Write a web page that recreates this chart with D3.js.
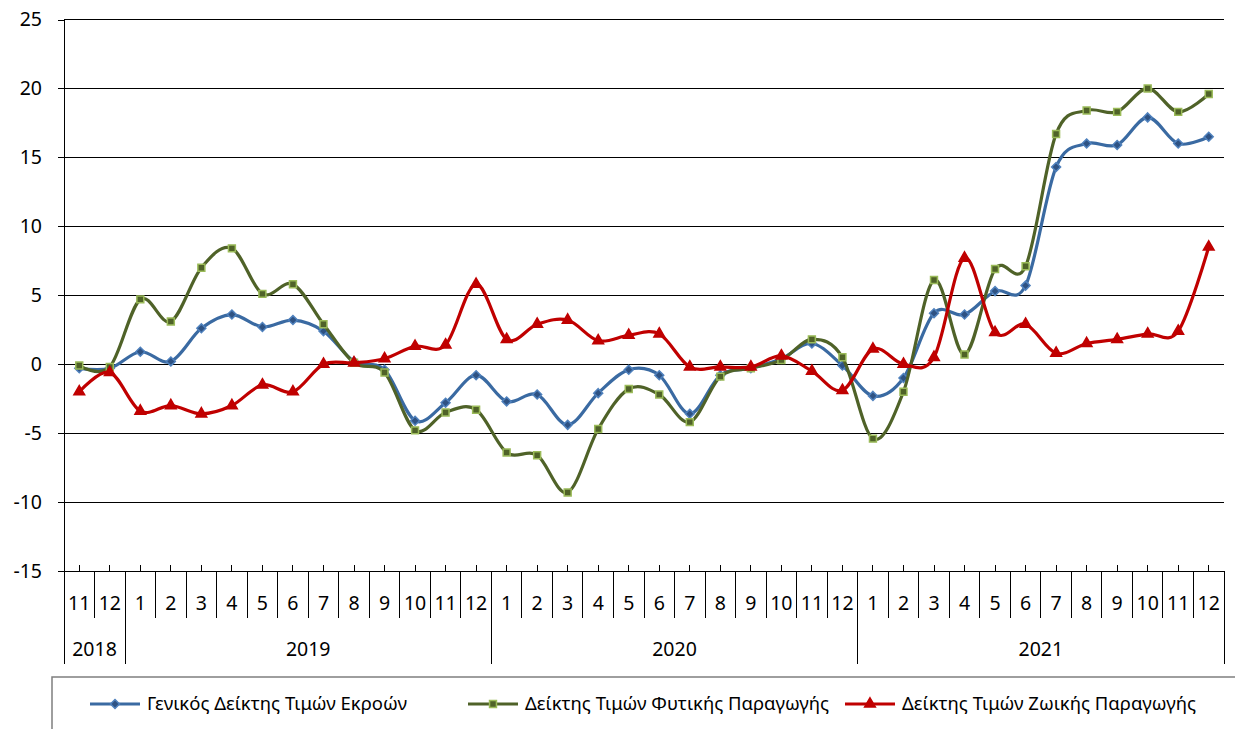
<!DOCTYPE html>
<html>
<head>
<meta charset="utf-8">
<script src="https://cdn.jsdelivr.net/npm/d3@7"></script>
<style>
  html, body { margin: 0; padding: 0; background: #fff; }
  svg { display: block; font-family: "Noto Sans", "Open Sans", sans-serif; }
</style>
</head>
<body>
<svg id="chart" width="1235" height="729"></svg>
<script>
const months = ["11","12","1","2","3","4","5","6","7","8","9","10","11","12",
  "1","2","3","4","5","6","7","8","9","10","11","12",
  "1","2","3","4","5","6","7","8","9","10","11","12"];
const yearLabels = ["2018","2019","2020","2021"];
const yearSpans = [2, 12, 12, 12];
const yTicks = [-15,-10,-5,0,5,10,15,20,25];

const seriesNames = ["Γενικός Δείκτης Τιμών Εκροών", "Δείκτης Τιμών Φυτικής Παραγωγής", "Δείκτης Τιμών Ζωικής Παραγωγής"];
const general = [-0.3,-0.3, 0.9,0.2,2.6,3.6,2.7,3.2,2.4,0.2,-0.4,-4.1,-2.8,-0.8,
  -2.7,-2.2,-4.4,-2.1,-0.4,-0.8,-3.6,-0.8,-0.3,0.4,1.5,-0.1,
  -2.3,-1.0,3.7,3.6,5.3,5.7,14.3,16.0,15.9,17.9,16.0,16.5];
const plant = [-0.1,-0.2, 4.7,3.1,7.0,8.4,5.1,5.8,2.9,0.1,-0.6,-4.8,-3.5,-3.3,
  -6.4,-6.6,-9.3,-4.7,-1.8,-2.2,-4.2,-0.9,-0.3,0.3,1.8,0.5,
  -5.4,-2.0,6.1,0.7,6.9,7.1,16.7,18.4,18.3,20.0,18.3,19.6];
const animal = [-2.0,-0.6, -3.4,-3.0,-3.6,-3.0,-1.5,-2.0,0.0,0.1,0.4,1.3,1.4,5.8,
  1.8,2.9,3.2,1.7,2.1,2.2,-0.2,-0.2,-0.2,0.6,-0.5,-1.9,
  1.1,0.0,0.5,7.7,2.3,2.9,0.8,1.5,1.8,2.2,2.4,8.5];

const svg = d3.select("#chart");
const L = 64, R = 1224, T = 19.5, B = 571;

const x = d3.scaleBand().domain(d3.range(months.length)).range([L, R]).paddingInner(0).paddingOuter(0);
const bw = x.bandwidth();
const cx = i => x(i) + bw / 2;
const y = d3.scaleLinear().domain([-15, 25]).range([B, T]);

// gridlines
svg.append("g").selectAll("line").data(yTicks.filter(t => t !== -15)).join("line")
  .attr("x1", L).attr("x2", R).attr("y1", d => y(d)).attr("y2", d => y(d))
  .attr("stroke", "#000").attr("stroke-width", 1).attr("shape-rendering", "crispEdges");

// y axis
const yAxis = d3.axisLeft(y).tickValues(yTicks).tickSize(6).tickPadding(16).tickFormat(d => String(d));
const gy = svg.append("g").attr("transform", `translate(${L},0)`).call(yAxis);
gy.select(".domain").attr("stroke", "#000").attr("shape-rendering", "crispEdges");
gy.selectAll(".tick line").attr("stroke", "#000").attr("shape-rendering", "crispEdges");
gy.selectAll("text").attr("font-size", 19.5).attr("fill", "#000").attr("font-family", "Noto Sans");

// x axis line + center ticks
svg.append("line").attr("x1", L).attr("x2", R).attr("y1", B).attr("y2", B)
  .attr("stroke", "#000").attr("shape-rendering", "crispEdges");
svg.append("g").selectAll("line").data(d3.range(months.length)).join("line")
  .attr("x1", d => cx(d)).attr("x2", d => cx(d)).attr("y1", B - 6).attr("y2", B)
  .attr("stroke", "#000").attr("shape-rendering", "crispEdges");

// month separators
const bounds = d3.range(months.length + 1).map(i => i < months.length ? x(i) : R);
svg.append("g").selectAll("line").data(bounds).join("line")
  .attr("x1", d => d).attr("x2", d => d).attr("y1", B).attr("y2", 618)
  .attr("stroke", "#000").attr("shape-rendering", "crispEdges");
// month labels
svg.append("g").selectAll("text").data(months).join("text")
  .attr("x", (d, i) => cx(i)).attr("y", 603).attr("dy", "0.35em")
  .attr("text-anchor", "middle").attr("font-size", 19.5).attr("fill", "#000")
  .text(d => d);

// year separators & labels
const yearStarts = yearSpans.map((s, i) => d3.sum(yearSpans.slice(0, i)));
const yearBounds = yearStarts.map(s => x(s)).concat([R]);
svg.append("g").selectAll("line").data(yearBounds).join("line")
  .attr("x1", d => d).attr("x2", d => d).attr("y1", 618).attr("y2", 664)
  .attr("stroke", "#000").attr("shape-rendering", "crispEdges");
svg.append("g").selectAll("text").data(yearLabels).join("text")
  .attr("x", (d, i) => (yearBounds[i] + yearBounds[i + 1]) / 2).attr("y", 649).attr("dy", "0.35em")
  .attr("text-anchor", "middle").attr("font-size", 19.5).attr("fill", "#000")
  .text(d => d);

// custom compact diamond
const diamond = {
  draw(ctx, size) {
    const r = Math.sqrt(size / 2);
    ctx.moveTo(0, -r); ctx.lineTo(r, 0); ctx.lineTo(0, r); ctx.lineTo(-r, 0); ctx.closePath();
  }
};

// series
const styles = [
  { data: general, line: "#3A6AA2", fill: "#2E5283", stroke: "#4F81BD", shape: diamond, size: 40 },
  { data: plant, line: "#4F6228", fill: "#4F6228", stroke: "#9BBB59", shape: d3.symbolSquare, size: 48 },
  { data: animal, line: "#C00000", fill: "#C00000", stroke: "#C00000", shape: d3.symbolTriangle, size: 50 }
];
const lineGen = d3.line().x((d, i) => cx(i)).y(d => y(d)).curve(d3.curveCatmullRom.alpha(0));

styles.forEach(s => {
  const g = svg.append("g");
  g.append("path").datum(s.data).attr("d", lineGen)
    .attr("fill", "none").attr("stroke", s.line).attr("stroke-width", 3.2)
    .attr("stroke-linejoin", "round");
  g.selectAll("path.m").data(s.data).join("path").attr("class", "m")
    .attr("transform", (d, i) => `translate(${cx(i)},${y(d)})`)
    .attr("d", d3.symbol().type(s.shape).size(s.size))
    .attr("fill", s.fill).attr("stroke", s.stroke).attr("stroke-width", 1.5);
});

// legend
const lg = svg.append("g");
lg.append("path").attr("d", `M52,760 L52,677 L1240,677`).attr("fill", "none")
  .attr("stroke", "#7f7f7f").attr("stroke-width", 1.5);
const legendX = [90, 468, 845];
seriesNames.forEach((name, i) => {
  const s = styles[i];
  const gx = legendX[i];
  lg.append("line").attr("x1", gx).attr("x2", gx + 50).attr("y1", 704).attr("y2", 704)
    .attr("stroke", s.line).attr("stroke-width", 3.2);
  lg.append("path").attr("transform", `translate(${gx + 25},704)`)
    .attr("d", d3.symbol().type(s.shape).size(s.size)).attr("fill", s.fill)
    .attr("stroke", s.stroke).attr("stroke-width", 1.5);
  lg.append("text").attr("x", gx + 57).attr("y", 704).attr("dy", "0.35em")
    .attr("font-size", 18.5).attr("fill", "#000").text(name);
});
</script>
</body>
</html>
